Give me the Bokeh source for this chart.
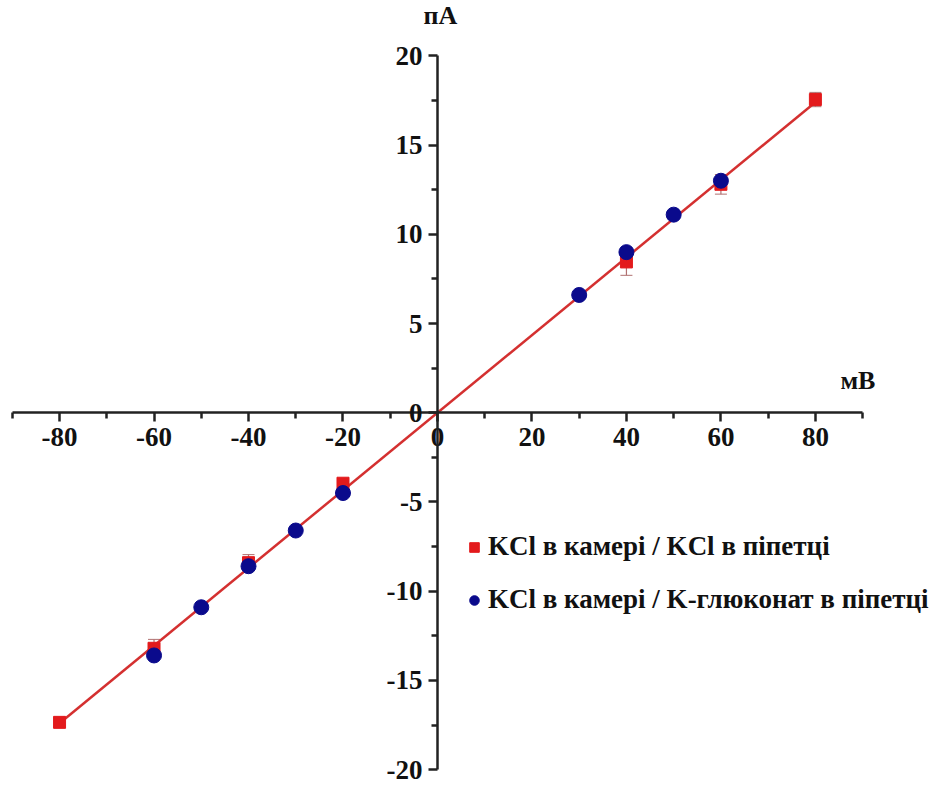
from bokeh.plotting import figure
from bokeh.models import (Range1d, LinearAxis, FixedTicker, Label, Legend, LegendItem,
                          ColumnDataSource, Whisker, CustomJSTickFormatter)
from bokeh.embed import file_html
from bokeh.resources import INLINE

# ---- data ----
red_x = [-80, -60, -40, -20, 40, 60, 80]
red_y = [-17.35, -13.2, -8.4, -3.95, 8.45, 12.8, 17.55]
red_err = [0.25, 0.5, 0.45, 0.2, 0.75, 0.55, 0.4]

blue_x = [-60, -50, -40, -30, -20, 30, 40, 50, 60]
blue_y = [-13.6, -10.9, -8.6, -6.6, -4.5, 6.6, 9.0, 11.1, 13.0]

fit_x = [-80, 80]
fit_y = [-17.4, 17.4]

x_major = [-80, -60, -40, -20, 0, 20, 40, 60, 80]
x_minor = [-90, -70, -50, -30, -10, 10, 30, 50, 70, 90]
y_major = [-20, -15, -10, -5, 0, 5, 10, 15, 20]
y_minor = [-17.5, -12.5, -7.5, -2.5, 2.5, 7.5, 12.5, 17.5]

label_red = "KCl в камері / KCl в піпетці"
label_blue = "KCl в камері / K-глюконат в піпетці"
x_title = "мВ"
y_title = "пА"

FONT = "Liberation Serif"
RED = "#e31a1c"
BLUE = "#0a0a8c"
LINE = "#d43030"

p = figure(width=950, height=787, output_backend="svg", toolbar_location=None,
           x_range=Range1d(-92.5, 108.6), y_range=Range1d(-21.0, 23.1),
           x_axis_location=None, y_axis_location=None, min_border=0,
           outline_line_color=None)
p.grid.visible = False

fmt = CustomJSTickFormatter(code="return String(tick);")

def style(ax):
    ax.formatter = fmt
    ax.axis_line_width = 2.5
    ax.major_tick_line_width = 2.5
    ax.minor_tick_line_width = 2.5
    ax.major_tick_out = 9
    ax.major_tick_in = 0
    ax.minor_tick_out = 6
    ax.minor_tick_in = 0
    ax.major_label_text_font = FONT
    ax.major_label_text_font_style = "bold"
    ax.major_label_text_font_size = "27px"
    ax.major_label_text_color = "#111111"
    ax.axis_line_color = "#222222"
    ax.major_tick_line_color = "#222222"
    ax.minor_tick_line_color = "#222222"

xa = LinearAxis(fixed_location=0, bounds=(-90, 90),
                ticker=FixedTicker(ticks=x_major, minor_ticks=x_minor))
style(xa)
xa.major_label_standoff = 6
p.add_layout(xa, "below")

ya = LinearAxis(fixed_location=0, bounds=(-20, 20),
                ticker=FixedTicker(ticks=y_major, minor_ticks=y_minor))
style(ya)
ya.major_label_standoff = 6
p.add_layout(ya, "left")

# fit line
p.line(fit_x, fit_y, line_color=LINE, line_width=2.5)

# error bars
src_r = ColumnDataSource(dict(x=red_x, y=red_y,
                              lo=[y - e for y, e in zip(red_y, red_err)],
                              hi=[y + e for y, e in zip(red_y, red_err)]))
wh = Whisker(source=src_r, base="x", upper="hi", lower="lo", line_color="#b07070",
             line_width=1.2)
wh.upper_head.size = 12
wh.lower_head.size = 12
wh.upper_head.line_color = "#b07070"
wh.lower_head.line_color = "#b07070"
p.add_layout(wh)

r_red = p.scatter("x", "y", source=src_r, marker="square", size=12,
                  fill_color=RED, line_color=RED)
r_blue = p.scatter(blue_x, blue_y, marker="circle", size=15,
                   fill_color=BLUE, line_color=BLUE)

p.add_layout(Label(x=0.6, y=20, y_offset=26, text=y_title, text_font=FONT,
                   text_font_style="bold", text_font_size="26px", text_align="center",
                   text_color="#111111"))
p.add_layout(Label(x=89, y=1.0, text=x_title, text_font=FONT,
                   text_font_style="bold", text_font_size="26px", text_align="center",
                   text_color="#111111"))

legend = Legend(items=[LegendItem(label=label_red, renderers=[r_red]),
                       LegendItem(label=label_blue, renderers=[r_blue])],
                location=(462, 172), border_line_color=None, background_fill_alpha=0,
                label_text_font=FONT, label_text_font_style="bold",
                label_text_font_size="27px", label_text_color="#111111",
                glyph_width=24, glyph_height=28, spacing=22, label_standoff=2,
                padding=0, margin=0)
p.add_layout(legend)

open("out.html", "w").write(file_html(p, INLINE))
